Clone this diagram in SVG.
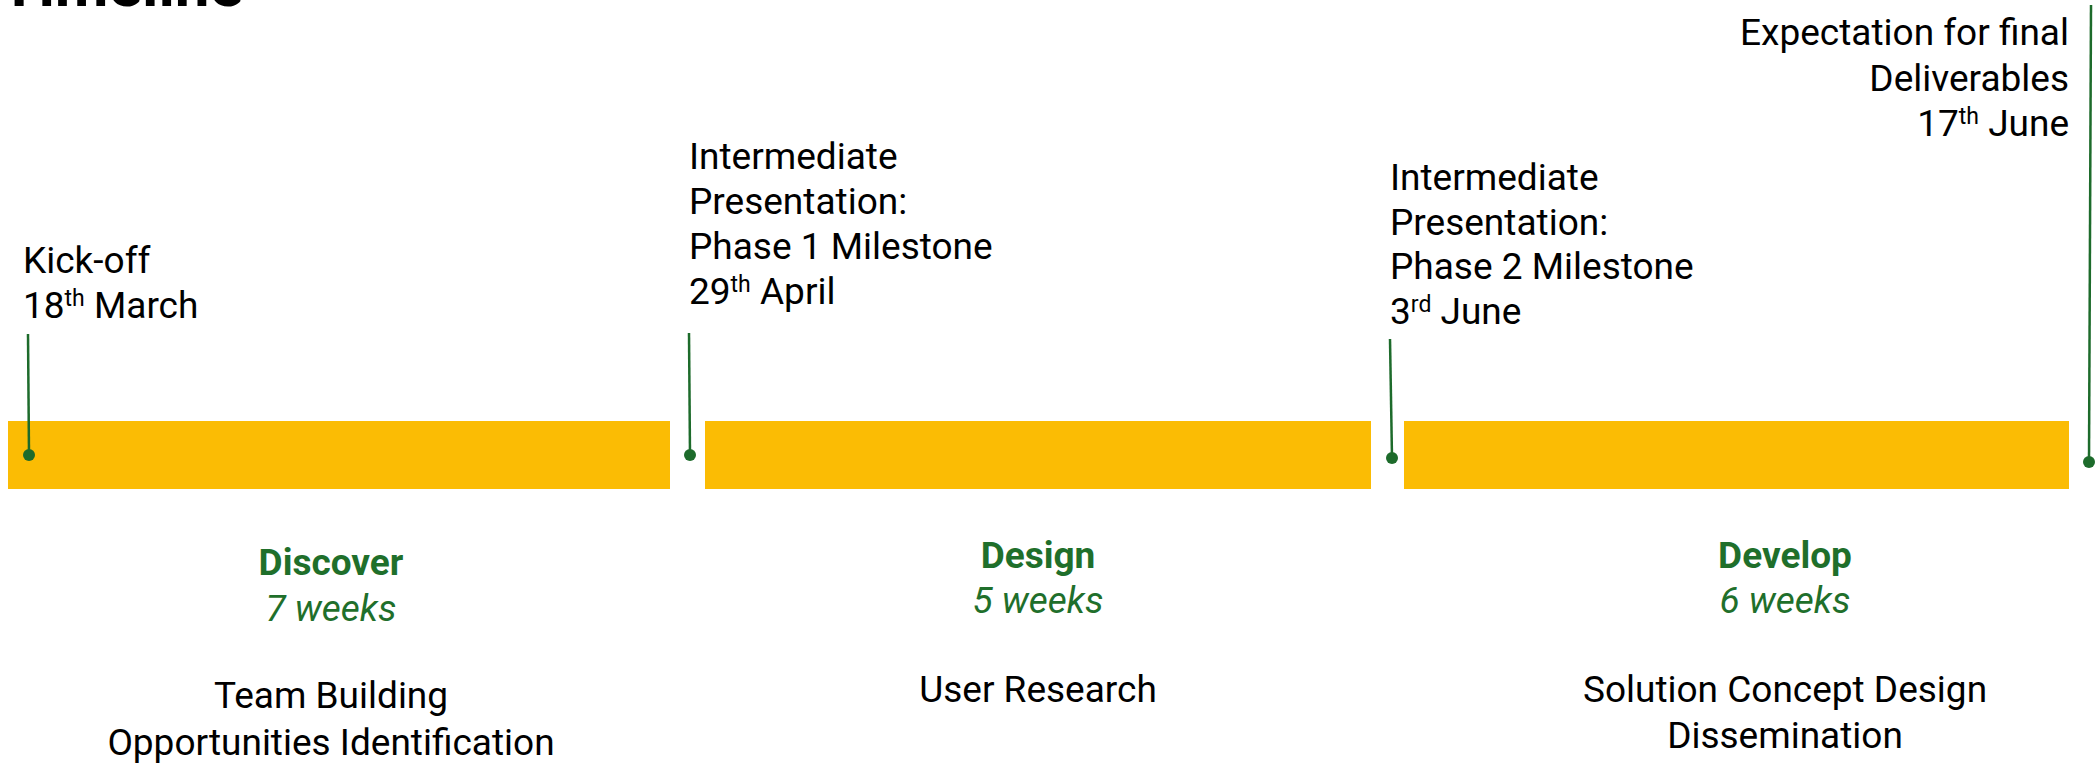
<svg xmlns="http://www.w3.org/2000/svg" width="2097" height="764" viewBox="0 0 2097 764">
  <style>
    text { font-family: Roboto, "Liberation Sans", sans-serif; font-size: 37px; fill: #000; }
    .title { font-weight: 700; font-size: 62px; }
    .phase { font-weight: 700; fill: #1f6f2b; }
    .dur { font-style: italic; fill: #1f6f2b; }
    .mid { text-anchor: middle; }
    .end { text-anchor: end; }
    .sup { font-size: 23px; }
    .bar { fill: #fbbc04; }
    .lead { stroke: #1d6b2b; stroke-width: 2.5; fill: none; }
    .pin { fill: #1d6b2b; }
  </style>

  <!-- heading, mostly above the top edge -->
  <text class="title" x="0" y="6">Timeline</text>

  <!-- phase bars -->
  <g id="bar-discover"><rect class="bar" x="8" y="421" width="662" height="68"/></g>
  <g id="bar-design"><rect class="bar" x="705" y="421" width="666" height="68"/></g>
  <g id="bar-develop"><rect class="bar" x="1404" y="421" width="665" height="68"/></g>

  <!-- milestone leader lines and pins -->
  <g id="connectors">
    <line class="lead" x1="28" y1="334" x2="29" y2="455"/>
    <circle class="pin" cx="29" cy="455" r="6"/>
    <line class="lead" x1="689" y1="333" x2="690" y2="455"/>
    <circle class="pin" cx="690" cy="455" r="6"/>
    <line class="lead" x1="1390" y1="339" x2="1392" y2="458"/>
    <circle class="pin" cx="1392" cy="458" r="6"/>
    <line class="lead" x1="2091" y1="5" x2="2089" y2="462"/>
    <circle class="pin" cx="2089" cy="462" r="6"/>
  </g>

  <!-- milestone labels -->
  <g id="kickoff">
    <text x="23" y="273">Kick-off</text>
    <text x="23" y="318">18<tspan class="sup" dy="-12">th</tspan><tspan dy="12"> March</tspan></text>
  </g>
  <g id="milestone-1">
    <text x="689" y="169">Intermediate</text>
    <text x="689" y="214">Presentation:</text>
    <text x="689" y="259">Phase 1 Milestone</text>
    <text x="689" y="304">29<tspan class="sup" dy="-12">th</tspan><tspan dy="12"> April</tspan></text>
  </g>
  <g id="milestone-2">
    <text x="1390" y="190">Intermediate</text>
    <text x="1390" y="235">Presentation:</text>
    <text x="1390" y="279">Phase 2 Milestone</text>
    <text x="1390" y="324">3<tspan class="sup" dy="-12">rd</tspan><tspan dy="12"> June</tspan></text>
  </g>
  <g id="final">
    <text class="end" x="2069" y="45">Expectation for final</text>
    <text class="end" x="2069" y="91">Deliverables</text>
    <text class="end" x="2069" y="136">17<tspan class="sup" dy="-12">th</tspan><tspan dy="12"> June</tspan></text>
  </g>

  <!-- phase descriptions -->
  <g id="discover">
    <text class="phase mid" x="331" y="575">Discover</text>
    <text class="dur mid" x="331" y="621">7 weeks</text>
    <text class="mid" x="331" y="708">Team Building</text>
    <text class="mid" x="331" y="755">Opportunities Identification</text>
  </g>
  <g id="design">
    <text class="phase mid" x="1038" y="568">Design</text>
    <text class="dur mid" x="1038" y="613">5 weeks</text>
    <text class="mid" x="1038" y="702">User Research</text>
  </g>
  <g id="develop">
    <text class="phase mid" x="1785" y="568">Develop</text>
    <text class="dur mid" x="1785" y="613">6 weeks</text>
    <text class="mid" x="1785" y="702">Solution Concept Design</text>
    <text class="mid" x="1785" y="748">Dissemination</text>
  </g>
</svg>
